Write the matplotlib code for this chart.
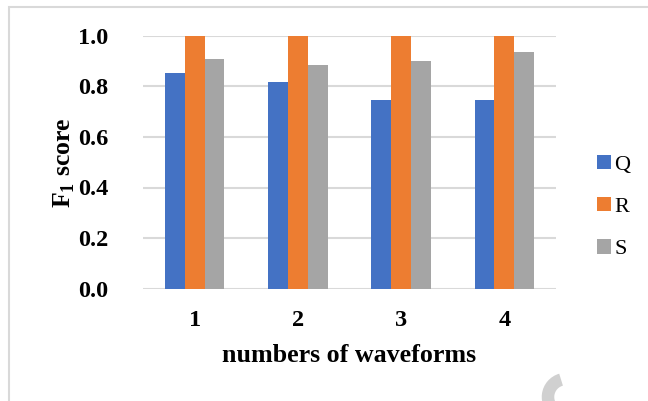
import matplotlib
matplotlib.use("Agg")
import matplotlib.pyplot as plt
import numpy as np
from matplotlib.patches import Rectangle, Arc

categories = ["1", "2", "3", "4"]
series_names = ["Q", "R", "S"]
q_values = [0.854, 0.816, 0.746, 0.746]
r_values = [1.0, 1.0, 1.0, 1.0]
s_values = [0.909, 0.886, 0.899, 0.934]
y_ticks = [0.0, 0.2, 0.4, 0.6, 0.8, 1.0]
y_tick_labels = ["0.0", "0.2", "0.4", "0.6", "0.8", "1.0"]
colors = ["#4472C4", "#ED7D31", "#A5A5A5"]

plt.rcParams['font.family'] = ['Liberation Serif', 'DejaVu Serif']
plt.rcParams['mathtext.fontset'] = 'custom'
plt.rcParams['mathtext.rm'] = 'Liberation Serif'
plt.rcParams['mathtext.bf'] = 'Liberation Serif:bold'

fig = plt.figure(figsize=(6.48, 4.01), dpi=100)
W, H = 648, 401
ax = fig.add_axes([143 / W, 1 - 288.7 / H, (556 - 143) / W, (288.7 - 35.7) / H])

x = np.arange(len(categories))
bw = 1 / (3 + 2.19)
for i, (vals, c, name) in enumerate(zip([q_values, r_values, s_values], colors, series_names)):
    ax.bar(x + (i - 1) * bw, vals, width=bw, color=c, label=name, zorder=3, linewidth=0)

ax.set_xlim(-0.5, len(categories) - 0.5)
ax.set_ylim(0, 1.0)
ax.set_yticks(y_ticks)
ax.set_yticklabels(y_tick_labels)
ax.set_xticks(x)
ax.set_xticklabels(categories)
for sp in ax.spines.values():
    sp.set_visible(False)
ax.grid(axis='y', color='#D9D9D9', linewidth=1.5, zorder=0)
ax.set_axisbelow(True)
ax.tick_params(axis='both', length=0, labelsize=17.5)
ax.tick_params(axis='y', pad=25)
ax.tick_params(axis='x', pad=15)
for lab in ax.get_xticklabels() + ax.get_yticklabels():
    lab.set_fontweight('bold')

fig.text((223 + 476) / 2 / W, 1 - 355 / H, "numbers of waveforms",
         ha='center', va='center', fontsize=18.7, fontweight='bold')
fig.text(64 / W, 1 - 163 / H, r"F$_{\mathbf{1}}$ score", rotation=90,
         ha='center', va='center', fontsize=18.5, fontweight='bold')

leg = ax.legend(loc='center left', bbox_to_anchor=(597 / W, 1 - 207 / H),
                bbox_transform=fig.transFigure, frameon=False, fontsize=16,
                handlelength=0.62, handleheight=0.62, handletextpad=0.15,
                labelspacing=1.0, borderpad=0, borderaxespad=0)

# figure border
fig.patches.append(Rectangle((9 / W, -0.05), 1.1, 1 - 7 / H + 0.05, transform=fig.transFigure,
                             fill=False, edgecolor='#D9D9D9', linewidth=1.5))
# watermark fragment
fig.patches.append(Arc((566 / W, 1 - 397 / H), 36 / W, 36 / H, theta1=100, theta2=250,
                       transform=fig.transFigure, color='#D0D0D0', linewidth=9))

fig.savefig("out.png", dpi=100)
